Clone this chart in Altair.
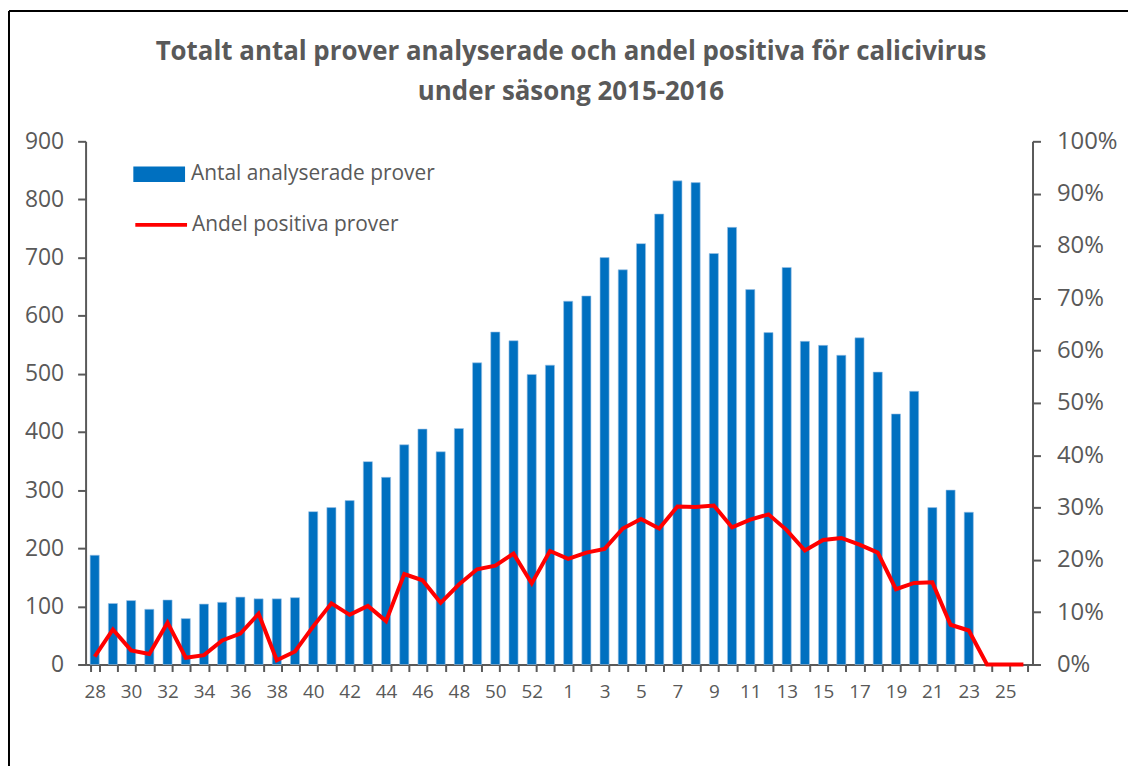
import altair as alt
import pandas as pd

weeks = [str(w) for w in list(range(28, 54)) + list(range(1, 27))]

counts = [188, 105, 110, 95, 111, 79, 104, 107, 116, 113, 113, 115,
          263, 270, 282, 349, 322, 378, 405, 366, 406, 519, 572, 557,
          499, 515,
          625, 634, 700, 679, 724, 775, 832, 829, 707, 752, 645, 571,
          683, 556, 549, 532, 562, 503, 431, 470, 270, 300, 262,
          None, None, None]

share = [1.5, 6.7, 2.7, 2.0, 8.0, 1.3, 1.8, 4.6, 5.9, 9.7, 0.8, 2.5,
         7.3, 11.7, 9.5, 11.2, 8.3, 17.3, 16.1, 11.8, 15.3, 18.2, 18.9, 21.2,
         15.5, 21.7,
         20.2, 21.4, 22.1, 26.0, 27.8, 26.0, 30.2, 30.1, 30.4, 26.2, 27.7, 28.7,
         25.7, 21.8, 23.8, 24.2, 22.9, 21.4, 14.4, 15.6, 15.7, 7.6, 6.5,
         0.0, 0.0, 0.0]

title_lines = ["Totalt antal prover analyserade och andel positiva för calicivirus",
               "under säsong 2015-2016"]
bar_name = "Antal analyserade prover"
line_name = "Andel positiva prover"

df = pd.DataFrame({
    "week": weeks,
    "count": counts,
    "share": [s / 100 for s in share],
    "bar_series": bar_name,
    "line_series": line_name,
})

GRAY = "#595959"
FONT = "Open Sans"

label_expr = ("(toNumber(datum.value) >= 27 ? toNumber(datum.value) % 2 == 0 : "
              "toNumber(datum.value) % 2 == 1) ? datum.label : ''")

x_enc = alt.X("week:N", sort=weeks, title=None,
              scale=alt.Scale(paddingInner=0.5, paddingOuter=0.25),
              axis=alt.Axis(labelAngle=0, labelExpr=label_expr, labelOverlap=False,
                            tickBand="extent", tickSize=7, tickColor=GRAY,
                            domainColor=GRAY, domainWidth=2, tickWidth=2,
                            labelFont=FONT, labelFontSize=19, labelColor=GRAY,
                            labelPadding=11, grid=False))

bars = alt.Chart(df).mark_bar(stroke="#9dc3e6", strokeWidth=0.6).encode(
    x=x_enc,
    y=alt.Y("count:Q", title=None,
            scale=alt.Scale(domain=[0, 900], nice=False),
            axis=alt.Axis(values=list(range(0, 1000, 100)), tickSize=8,
                          tickColor=GRAY, domainColor=GRAY, domainWidth=2, tickWidth=2,
                          labelFont=FONT, labelFontSize=23, labelColor=GRAY,
                          labelPadding=14, grid=False)),
    color=alt.Color("bar_series:N", scale=alt.Scale(range=["#0070C0"]),
                    legend=alt.Legend(title=None, orient="none", legendX=48, legendY=7,
                                      symbolType="M-1,-0.3H1V0.3H-1Z", symbolSize=2704,
                                      symbolStrokeWidth=0, labelFont=FONT,
                                      labelFontSize=21, labelColor=GRAY, labelOffset=6,
                                      labelLimit=500)),
)

line = alt.Chart(df).mark_line(strokeWidth=4, strokeJoin="miter").encode(
    x=alt.X("week:N", sort=weeks),
    y=alt.Y("share:Q", title=None,
            scale=alt.Scale(domain=[0, 1], nice=False),
            axis=alt.Axis(orient="right", values=[i / 10 for i in range(11)],
                          format=".0%", tickSize=8, tickColor=GRAY, domainColor=GRAY,
                          domainWidth=2, tickWidth=2, labelFont=FONT, labelFontSize=24,
                          labelColor=GRAY, labelPadding=16, grid=False)),
    stroke=alt.Stroke("line_series:N", scale=alt.Scale(range=["#FF0000"]),
                      legend=alt.Legend(title=None, orient="none", legendX=48, legendY=56,
                                        symbolType="stroke", symbolSize=2704,
                                        symbolStrokeWidth=4, labelFont=FONT,
                                        labelFontSize=21, labelColor=GRAY, labelOffset=3,
                                        labelLimit=500)),
)

frame_df = pd.DataFrame({"a": [0]})
frame_left = alt.Chart(frame_df).mark_rule(color="black", strokeWidth=2).encode(
    x=alt.value(-77), y=alt.value(-131), y2=alt.value(628))
frame_top = alt.Chart(frame_df).mark_rule(color="black", strokeWidth=2).encode(
    x=alt.value(-77), x2=alt.value(1048), y=alt.value(-131))

chart = alt.layer(bars, line, frame_left, frame_top).resolve_scale(
    y="independent", color="independent", stroke="independent"
).properties(
    width=952, height=526,
    padding=0,
    title=alt.TitleParams(text=title_lines, font="Open Sans", fontSize=26, fontWeight="bold",
                          color=GRAY, anchor="middle", lineHeight=40, offset=-95, dx=12),
).configure_view(stroke=None)

chart.save("out.html", embed_options={"renderer": "svg", "actions": False})
